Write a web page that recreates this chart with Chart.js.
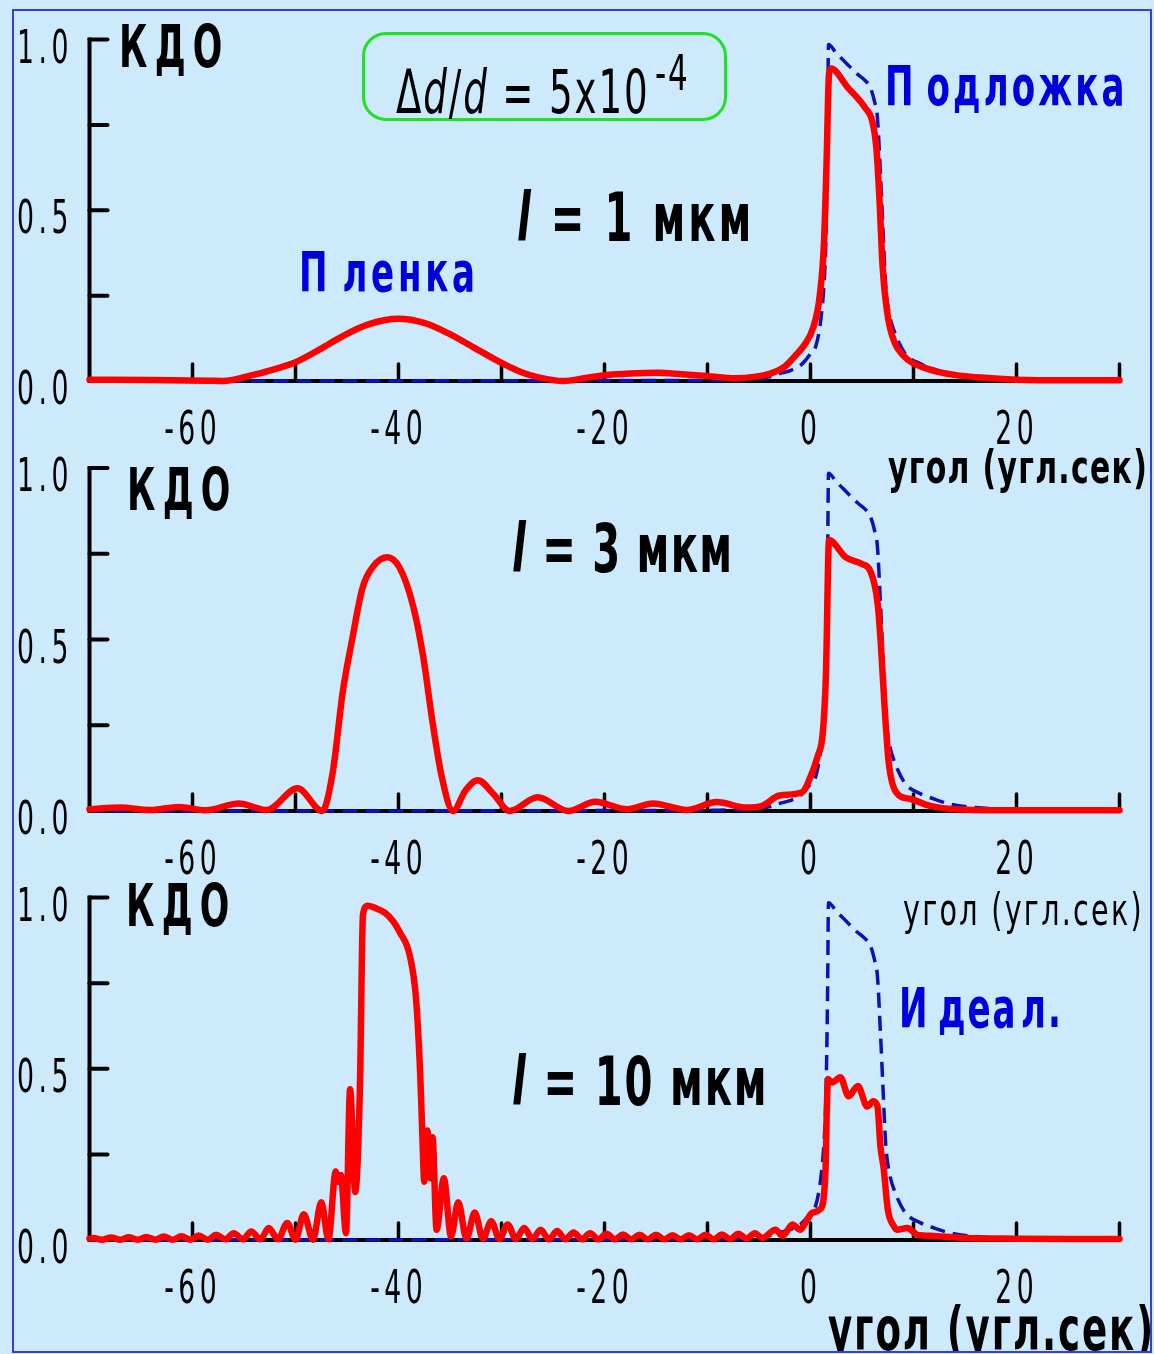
<!DOCTYPE html>
<html>
<head>
<meta charset="utf-8">
<script src="https://cdn.jsdelivr.net/npm/chart.js@4.4.1/dist/chart.umd.min.js"></script>
<style>
  body { margin: 0; background: #cceafc; }
  #page { position: relative; width: 1154px; height: 1354px; overflow: hidden; background: #cceafc; }
  canvas.panel { position: absolute; left: 0; top: 0; }
  .t { position: absolute; white-space: nowrap; line-height: 1; transform-origin: 0 0;
       font-family: "DejaVu Sans", sans-serif; color: #000; }
  .b { font-weight: bold; }
  .blue { color: #0000dd; }
  #frame { position: absolute; left: 12px; top: 9px; width: 1140px; height: 1344px;
           box-sizing: border-box; border: 2px solid #3c3cd6; pointer-events: none; }
  #box { position: absolute; left: 362px; top: 32px; width: 365px; height: 89px;
         box-sizing: border-box; border: 3.5px solid #22e022; border-radius: 24px; }
  #clip { position: absolute; left: 0; top: 0; width: 1154px; height: 1351px; overflow: hidden; }
</style>
</head>
<body>
<div id="page">
  <canvas class="panel" id="c1" width="1154" height="1354"></canvas>
  <canvas class="panel" id="c2" width="1154" height="1354"></canvas>
  <canvas class="panel" id="c3" width="1154" height="1354"></canvas>

  <div id="box"></div>
  <div class="t" style="left:396px; top:62px; font-size:60px; letter-spacing:3px; transform:scaleX(0.62)">Δ<i>d</i>/<i>d</i> = 5x10</div>
  <div class="t" style="left:655px; top:47.7px; font-size:50px; letter-spacing:3px; transform:scaleX(0.62)">-4</div>

  <!-- панель 1 -->
  <div class="t b" style="left:119px; top:17.9px; font-size:58px; letter-spacing:12px; transform:scaleX(0.6)">КДО</div>
  <div class="t b" style="left:517px; top:185.3px; font-size:67px; letter-spacing:5px; transform:scaleX(0.6)"><i>l</i> = 1 мкм</div>
  <div class="t b blue" style="left:299px; top:244.5px; font-size:55px; letter-spacing:6px; transform:scaleX(0.62)"><span style="margin-right:18px">П</span>ленка</div>
  <div class="t b blue" style="left:885px; top:58.5px; font-size:55px; letter-spacing:5px; transform:scaleX(0.62)"><span style="margin-right:16px">П</span>одложка</div>
  <div class="t b" style="left:888px; top:444.1px; font-size:46px; letter-spacing:2px; transform:scaleX(0.65)">угол (угл.сек)</div>

  <!-- панель 2 -->
  <div class="t b" style="left:127px; top:460.9px; font-size:58px; letter-spacing:12px; transform:scaleX(0.6)">КДО</div>
  <div class="t b" style="left:512px; top:516.3px; font-size:67px; letter-spacing:2px; transform:scaleX(0.6)"><i>l</i> = 3 мкм</div>
  <div class="t" style="left:903px; top:887.8px; font-size:44px; letter-spacing:3.5px; transform:scaleX(0.65)">угол (угл.сек)</div>

  <!-- панель 3 -->
  <div class="t b" style="left:126px; top:876.9px; font-size:58px; letter-spacing:12px; transform:scaleX(0.6)">КДО</div>
  <div class="t b" style="left:512px; top:1049.3px; font-size:67px; letter-spacing:3px; transform:scaleX(0.6)"><i>l</i> = 10 мкм</div>
  <div class="t b blue" style="left:899px; top:980.5px; font-size:55px; letter-spacing:3px; transform:scaleX(0.62)"><span style="margin-right:14px">И</span>деа<span style="margin-left:6px">л.</span></div>
  <div id="clip">
    <div class="t b" style="left:828px; top:1299.2px; font-size:60px; letter-spacing:3px; transform:scaleX(0.62)">угол (угл.сек)</div>
  </div>

  <div id="frame"></div>
</div>

<script>
// Ось X: угол (угл.сек), ось Y: КДО
const xMin = -70, xMax = 30;
const xTickValues = [-60, -50, -40, -30, -20, -10, 0, 10, 20, 30];
const xLabelValues = [-60, -40, -20, 0, 20];
const xTickLabels = ['-60', '-40', '-20', '0', '20'];
const yTickValues = [0.25, 0.5, 0.75, 1.0];
const yLabelValues = [0, 0.5, 1.0];
const yTickLabels = ['0.0', '0.5', '1.0'];

// Идеальная подложка (синий пунктир) — одинаковая на всех трёх панелях
const idealX = [-70, -10, -6, -4, -3, -2, -1, -0.5, 0, 0.5,
  1.0, 1.3, 1.5, 1.65, 1.75, 2.5, 3.5, 4.5, 5.3, 5.8,
  6.2, 6.5, 6.8, 7.0, 7.3, 7.7, 8.2, 9.2, 10.7, 12,
  13.6, 16, 20, 30];
const idealY = [0, 0.002, 0.006, 0.012, 0.022, 0.03, 0.045, 0.06, 0.08, 0.1,
  0.18, 0.28, 0.42, 0.7, 0.985, 0.96, 0.93, 0.90, 0.88, 0.86,
  0.82, 0.77, 0.6, 0.47, 0.28, 0.19, 0.14, 0.08, 0.05, 0.035,
  0.02, 0.01, 0.004, 0];

// l = 1 мкм
const film1X = [-70, -64, -58.5, -57, -54.5, -52, -50, -47.5, -45.5, -43,
  -40, -37.5, -35.2, -32.5, -30, -28, -26.3, -24, -22, -20,
  -17.5, -14.8, -12.5, -10.1, -7.3, -5.5, -3.9, -2.5, -1.6, -0.5,
  0.3, 0.9, 1.3, 1.55, 1.8, 2.0, 3.6, 5.3, 6.0, 6.4,
  6.7, 7.0, 7.5, 8.2, 9.0, 9.8, 12, 14, 16.6, 20,
  25, 30];
const film1Y = [0.004, 0.003, 0.001, 0.0, 0.015, 0.035, 0.055, 0.095, 0.13, 0.165,
  0.182, 0.17, 0.14, 0.095, 0.053, 0.025, 0.01, 0.0, 0.008, 0.017,
  0.022, 0.024, 0.02, 0.015, 0.008, 0.012, 0.022, 0.042, 0.07, 0.11,
  0.16, 0.25, 0.4, 0.63, 0.9, 0.915, 0.86, 0.80, 0.76, 0.68,
  0.53, 0.335, 0.19, 0.11, 0.075, 0.055, 0.03, 0.018, 0.01, 0.004,
  0.002, 0.002];

// l = 3 мкм
const film3X = [-70, -67, -64.2, -61.3, -58.7, -55.5, -52.8, -49.8, -47.4, -46.4,
  -45.4, -44.5, -43.5, -42.4, -41.1, -39.9, -38.6, -37.6, -36.7, -35.8,
  -34.7, -33.5, -32.3, -30.8, -29.2, -26.5, -23.5, -20.9, -17.8, -15.3,
  -12, -9.1, -6.2, -4.7, -3, -0.8, 0, 0.7, 1.2, 1.5,
  1.8, 3.4, 5.0, 5.8, 6.5, 6.8, 7.2, 7.6, 8.3, 9.7,
  11.6, 14, 20, 30];
const film3Y = [0.005, 0.01, 0.003, 0.012, 0.002, 0.022, 0.003, 0.066, 0.0, 0.11,
  0.35, 0.50, 0.65, 0.715, 0.74, 0.71, 0.60, 0.45, 0.26, 0.1,
  0.0, 0.06, 0.09, 0.05, 0.0, 0.04, 0.0, 0.027, 0.005, 0.022,
  0.003, 0.026, 0.01, 0.015, 0.045, 0.055, 0.1, 0.16, 0.23, 0.4,
  0.79, 0.74, 0.72, 0.70, 0.61, 0.50, 0.30, 0.14, 0.055, 0.035,
  0.015, 0.005, 0.002, 0.002];

// l = 10 мкм
const film10X = [-70, -69.6, -68.8, -67.9, -67.0, -66.2, -65.3, -64.5, -63.6, -62.8,
  -61.9, -61.1, -60.2, -59.4, -58.5, -57.7, -56.8, -56.0, -55.1, -54.3,
  -53.4, -52.6, -51.7, -50.8, -50.0, -49.2, -48.3, -47.5, -46.8, -46.1,
  -45.9, -45.6, -45.1, -44.7, -44.2, -43.75, -43.45, -43.0, -42.0, -41.3,
  -40.5, -39.9, -38.9, -38.3, -37.9, -37.7, -37.5, -37.2, -36.9, -36.7,
  -36.3, -35.6, -34.9, -34.2, -33.4, -32.6, -31.8, -31.0, -30.2, -29.4,
  -28.6, -27.8, -27.0, -26.2, -25.4, -24.6, -23.8, -23.0, -22.2, -21.4,
  -20.6, -19.8, -19.0, -18.2, -17.4, -16.6, -15.8, -15.0, -14.2, -13.4,
  -12.6, -11.8, -11.0, -10.2, -9.4, -8.6, -7.8, -7.0, -6.2, -5.4,
  -4.7, -3.4, -2.7, -1.75, -1.0, -0.5, 0.2, 0.95, 1.45, 1.6,
  1.7, 2.1, 2.9, 3.7, 4.6, 5.5, 6.1, 6.5, 6.8, 7.1,
  7.5, 8.1, 8.4, 9.4, 10.4, 12, 15, 20, 25, 30];
const film10Y = [0.004, 0.006, 0.001, 0.007, 0.001, 0.008, 0.001, 0.009, 0.001, 0.01,
  0.001, 0.011, 0.001, 0.013, 0.001, 0.015, 0.002, 0.02, 0.002, 0.025,
  0.002, 0.035, 0.002, 0.05, 0.001, 0.075, 0.001, 0.11, 0.002, 0.2,
  0.17, 0.19, 0.02, 0.44, 0.14, 0.44, 0.95, 0.976, 0.966, 0.955,
  0.93, 0.90, 0.83, 0.705, 0.49, 0.32, 0.17, 0.32, 0.18, 0.30,
  0.03, 0.18, 0.01, 0.11, 0.004, 0.08, 0.004, 0.055, 0.003, 0.045,
  0.003, 0.035, 0.003, 0.03, 0.002, 0.026, 0.002, 0.022, 0.002, 0.02,
  0.002, 0.018, 0.002, 0.016, 0.002, 0.015, 0.002, 0.015, 0.002, 0.014,
  0.002, 0.014, 0.002, 0.015, 0.002, 0.016, 0.003, 0.018, 0.004, 0.02,
  0.006, 0.03, 0.012, 0.045, 0.03, 0.05, 0.08, 0.09, 0.2, 0.4,
  0.47, 0.46, 0.475, 0.42, 0.45, 0.39, 0.405, 0.39, 0.27, 0.21,
  0.09, 0.04, 0.03, 0.035, 0.015, 0.012, 0.006, 0.004, 0.003, 0.003];

// Вертикальные положения панелей (пиксели: верх = 1.0, низ = 0.0)
const panels = [
  { id: 'c1', top: 39.5, bottom: 381, xs: film1X, ys: film1Y },
  { id: 'c2', top: 468, bottom: 811, xs: film3X, ys: film3Y },
  { id: 'c3', top: 897.5, bottom: 1240, xs: film10X, ys: film10Y }
];

function toPoints(xs, ys) {
  return xs.map((v, i) => ({ x: v, y: ys[i] }));
}

// Сжатый по горизонтали текст подписей делений
function drawSqueezed(ctx, text, x, baseline, size, k, gap, align) {
  ctx.save();
  ctx.font = size + 'px "DejaVu Sans"';
  ctx.fillStyle = '#000';
  ctx.textBaseline = 'alphabetic';
  const chars = [...text];
  const widths = chars.map(ch => ctx.measureText(ch).width * k);
  const total = widths.reduce((a, b) => a + b, 0) + gap * (chars.length - 1);
  let cx = align === 'center' ? x - total / 2 : x;
  chars.forEach((ch, i) => {
    ctx.save();
    ctx.translate(cx, baseline);
    ctx.scale(k, 1);
    ctx.fillText(ch, 0, 0);
    ctx.restore();
    cx += widths[i] + gap;
  });
  ctx.restore();
}

const axesPlugin = {
  id: 'kdoAxes',
  beforeDatasetsDraw(chart) {
    const { ctx } = chart;
    const xs = chart.scales.x, ys = chart.scales.y;
    const x0 = xs.getPixelForValue(xMin), x1 = xs.getPixelForValue(xMax);
    const y0 = ys.getPixelForValue(0), y1 = ys.getPixelForValue(1);
    ctx.save();
    ctx.strokeStyle = '#000';
    ctx.lineWidth = 4;
    ctx.lineJoin = 'miter';
    ctx.beginPath();
    ctx.moveTo(x0, y1 - 2);
    ctx.lineTo(x0, y0);
    ctx.lineTo(x1, y0);
    ctx.stroke();
    ctx.lineCap = 'round';
    yTickValues.forEach(v => {
      const py = ys.getPixelForValue(v);
      ctx.beginPath();
      ctx.moveTo(x0, py);
      ctx.lineTo(x0 + 18, py);
      ctx.stroke();
    });
    ctx.lineWidth = 3.5;
    xTickValues.forEach(v => {
      const px = xs.getPixelForValue(v);
      ctx.beginPath();
      ctx.moveTo(px, y0);
      ctx.lineTo(px, y0 - 17);
      ctx.stroke();
    });
    ctx.restore();
    yLabelValues.forEach((v, i) => {
      drawSqueezed(ctx, yTickLabels[i], 17, ys.getPixelForValue(v) + 23, 46, 0.58, 4.5, 'left');
    });
    xLabelValues.forEach((v, i) => {
      drawSqueezed(ctx, xTickLabels[i], xs.getPixelForValue(v) - 2, y0 + 62.5, 46, 0.58, 4.5, 'center');
    });
  }
};

panels.forEach(p => {
  const canvas = document.getElementById(p.id);
  new Chart(canvas.getContext('2d'), {
    type: 'line',
    data: {
      datasets: [
        {
          label: 'пленка + подложка',
          data: toPoints(p.xs, p.ys),
          borderColor: '#ff0000',
          borderWidth: 6.5,
          pointRadius: 0,
          cubicInterpolationMode: 'monotone',
          borderJoinStyle: 'round',
          borderCapStyle: 'round',
          clip: false,
          fill: false
        },
        {
          label: 'идеал',
          data: toPoints(idealX, idealY),
          borderColor: '#1010b4',
          borderWidth: 3.5,
          borderDash: [15, 8],
          pointRadius: 0,
          cubicInterpolationMode: 'monotone',
          clip: false,
          fill: false
        }
      ]
    },
    options: {
      responsive: false,
      animation: false,
      devicePixelRatio: 1,
      layout: {
        padding: { left: 89.5, right: 1154 - 1119.5, top: p.top, bottom: 1354 - p.bottom }
      },
      plugins: { legend: { display: false }, tooltip: { enabled: false } },
      scales: {
        x: { type: 'linear', min: xMin, max: xMax, display: false },
        y: { type: 'linear', min: 0, max: 1, display: false }
      }
    },
    plugins: [axesPlugin]
  });
});
</script>
</body>
</html>
